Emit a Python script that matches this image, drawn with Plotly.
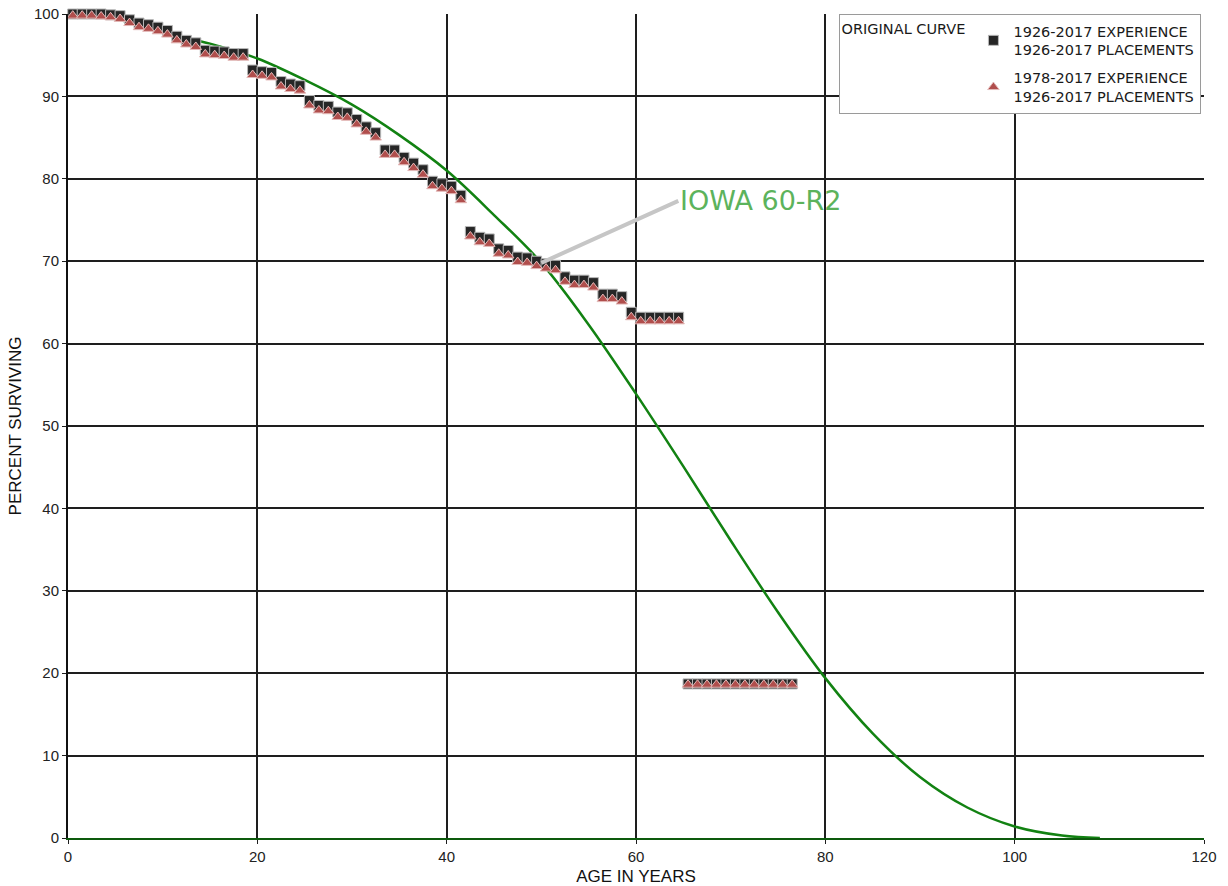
import plotly.graph_objects as go

# ---- data ----
ages_a = [0.5, 1.5, 2.5, 3.5, 4.5, 5.5, 6.5, 7.5, 8.5, 9.5,
          10.5, 11.5, 12.5, 13.5, 14.5, 15.5, 16.5, 17.5, 18.5, 19.5,
          20.5, 21.5, 22.5, 23.5, 24.5, 25.5, 26.5, 27.5, 28.5, 29.5,
          30.5, 31.5, 32.5, 33.5, 34.5, 35.5, 36.5, 37.5, 38.5, 39.5,
          40.5, 41.5, 42.5, 43.5, 44.5, 45.5, 46.5, 47.5, 48.5, 49.5,
          50.5, 51.5, 52.5, 53.5, 54.5, 55.5, 56.5, 57.5, 58.5, 59.5,
          60.5, 61.5, 62.5, 63.5, 64.5]
ages_b = [65.5, 66.5, 67.5, 68.5, 69.5, 70.5, 71.5, 72.5, 73.5, 74.5, 75.5, 76.5]

exp_1926_a = [100, 100, 100, 100, 99.9, 99.8, 99.3, 98.9, 98.7, 98.4,
              98.0, 97.3, 96.8, 96.5, 95.6, 95.5, 95.4, 95.2, 95.2, 93.2,
              93.0, 92.9, 91.8, 91.5, 91.3, 89.5, 88.9, 88.8, 88.1, 88.0,
              87.2, 86.3, 85.6, 83.5, 83.5, 82.6, 81.9, 81.1, 79.7, 79.4,
              79.1, 78.0, 73.6, 72.9, 72.7, 71.5, 71.3, 70.5, 70.4, 70.0,
              69.7, 69.5, 68.1, 67.7, 67.7, 67.4, 66.0, 66.0, 65.7, 63.8,
              63.2, 63.2, 63.2, 63.2, 63.2]
exp_1926_b = [18.7, 18.7, 18.7, 18.7, 18.7, 18.7, 18.7, 18.7, 18.7, 18.7, 18.7, 18.7]

exp_1978_a = [99.8, 99.8, 99.8, 99.7, 99.6, 99.4, 98.9, 98.4, 98.2, 97.9,
              97.5, 96.8, 96.3, 96.0, 95.1, 95.0, 94.9, 94.7, 94.7, 92.6,
              92.5, 92.3, 91.2, 90.9, 90.7, 88.9, 88.3, 88.2, 87.5, 87.4,
              86.6, 85.7, 85.0, 82.9, 82.9, 82.0, 81.3, 80.5, 79.1, 78.8,
              78.5, 77.4, 73.0, 72.3, 72.1, 70.9, 70.7, 69.9, 69.8, 69.4,
              69.1, 68.9, 67.5, 67.1, 67.1, 66.8, 65.4, 65.4, 65.1, 63.2,
              62.7, 62.7, 62.7, 62.7, 62.7]
exp_1978_b = [18.6, 18.6, 18.6, 18.6, 18.6, 18.6, 18.6, 18.6, 18.6, 18.6, 18.6, 18.6]

curve_ages = [0, 5, 10, 15, 20, 25, 30, 35, 40, 45, 50, 55, 60, 65, 70,
              75, 80, 85, 90, 95, 100, 105, 109]
curve_pct = [100, 99.4, 97.8, 96.4, 94.6, 92.0, 89.0, 85.3, 81.0, 75.6, 69.8,
             62.3, 53.9, 45.1, 36.1, 27.4, 19.4, 12.7, 7.4, 3.7, 1.4, 0.3, 0]

x_ticks = [0, 20, 40, 60, 80, 100, 120]
y_ticks = [0, 10, 20, 30, 40, 50, 60, 70, 80, 90, 100]

series1_name = "1926-2017 EXPERIENCE<br>1926-2017 PLACEMENTS"
series2_name = "1978-2017 EXPERIENCE<br>1926-2017 PLACEMENTS"
curve_label = "IOWA 60-R2"

ages_all = ages_a + ages_b
s1 = exp_1926_a + exp_1926_b
s2 = exp_1978_a + exp_1978_b

fig = go.Figure()

fig.add_trace(go.Scatter(
    x=curve_ages, y=curve_pct, mode="lines",
    line=dict(color="#128212", width=2.5, shape="spline", smoothing=1.0),
    name="ORIGINAL CURVE", showlegend=False, cliponaxis=True))

fig.add_trace(go.Scatter(
    x=ages_all, y=s1, mode="markers", name=series1_name, legendgroup="g1",
    marker=dict(symbol="square", size=10, color="#262626",
                line=dict(color="#b8b8b8", width=1)),
    cliponaxis=False))

fig.add_trace(go.Scatter(
    x=ages_all, y=s2, mode="markers", name=series2_name, legendgroup="g2",
    marker=dict(symbol="triangle-up", size=10, color="#b04e4c",
                line=dict(color="#e3b9b8", width=1)),
    cliponaxis=False))

grid_col = "#1e1e1e"
tick_font = dict(family="Liberation Sans, Arial, sans-serif", size=15, color="#222222")
title_font = dict(family="Liberation Sans, Arial, sans-serif", size=17, color="#111111")
leg_font = dict(family="DejaVu Sans, Verdana, sans-serif", size=14.5, color="#1a1a1a")

fig.update_layout(
    width=1228, height=886,
    margin=dict(l=68, r=24, t=14, b=48, autoexpand=False),
    paper_bgcolor="white", plot_bgcolor="white",
    showlegend=True,
    legend=dict(
        x=0.997, xanchor="right", y=1.0, yanchor="top",
        orientation="v", traceorder="grouped",
        bgcolor="white", bordercolor="#9a9a9a", borderwidth=1,
        font=leg_font,
        title=dict(text="ORIGINAL CURVE", side="left", font=leg_font),
        itemwidth=30,
        tracegroupgap=6,
    ),
    xaxis=dict(
        range=[0, 120], tickvals=x_ticks, ticktext=[str(v) for v in x_ticks],
        showgrid=True, gridcolor=grid_col, gridwidth=1.6,
        showline=True, linecolor="#0d5a0d", linewidth=2,
        ticks="outside", ticklen=4, tickcolor=grid_col,
        tickfont=tick_font, zeroline=False, automargin=False,
        title=dict(text="AGE IN YEARS", font=title_font),
    ),
    yaxis=dict(
        range=[0, 100], tickvals=y_ticks, ticktext=[str(v) for v in y_ticks],
        showgrid=True, gridcolor=grid_col, gridwidth=1.6,
        showline=True, linecolor="#111111", linewidth=2,
        ticks="outside", ticklen=4, tickcolor=grid_col,
        tickfont=tick_font, zeroline=False, automargin=True,
        title=dict(text="PERCENT SURVIVING", font=title_font, standoff=8),
    ),
    annotations=[dict(
        x=50, y=69.8, xref="x", yref="y",
        text=curve_label, showarrow=True,
        ax=137, ay=-62, xanchor="left", yanchor="middle",
        arrowhead=0, arrowwidth=4, arrowcolor="#c6c6c6", standoff=0,
        font=dict(family="DejaVu Sans, Verdana, sans-serif", size=27, color="#5cb35c"),
    )],
)

fig.write_html("out.html",
               config={"displayModeBar": False},
               post_script="document.body.style.margin='0';document.body.style.padding='0';")
